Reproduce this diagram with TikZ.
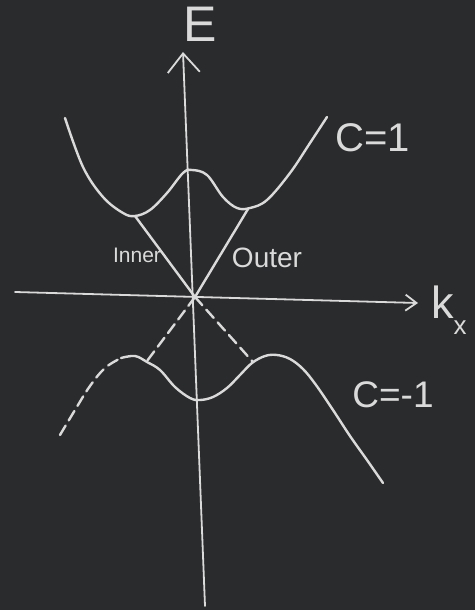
\documentclass[tikz,border=0pt]{standalone}
\usepackage{fontspec}
\setmainfont{Liberation Sans}
\usetikzlibrary{arrows.meta}
\definecolor{board}{RGB}{42,43,45}
\definecolor{chalk}{RGB}{218,218,218}
\begin{document}
\begin{tikzpicture}[x=1pt,y=-1pt,
  chalkline/.style={draw=chalk,line width=2.4pt,line cap=round,line join=round},
  axisline/.style={draw=chalk,line width=1.8pt,line cap=round},
  dashline/.style={chalkline,dash pattern=on 11pt off 6pt},
  lbl/.style={text=chalk,inner sep=0pt}]
\fill[board] (0,0) rectangle (475,610);
\useasboundingbox (0,0) rectangle (475,610);
% key points
\coordinate (O) at (195,297);
\coordinate (Ebot) at (205,606);
\coordinate (Etop) at (183,52);
\coordinate (kleft) at (15,292);
\coordinate (kright) at (418,303);
\coordinate (Lmin) at (135,216);
\coordinate (Rmin) at (248,209);
\coordinate (Lk) at (147,361);
\coordinate (Rk) at (253,362);
% axes
\draw[axisline,-{Straight Barb[length=19pt,width=32pt,line width=1.8pt]}] (Ebot) -- (Etop);
\draw[axisline,-{Straight Barb[length=11pt,width=16pt,line width=1.8pt]}] (kleft) -- (kright);
% upper band C=1
\draw[chalkline] plot[smooth,tension=0.6] coordinates {(65,118) (83,167) (103,197) (123,213) (135,216) (150,210) (167,193) (183,173) (192,170) (207,175) (223,197) (237,208) (250,208) (267,200) (290,173) (310,143) (327,117)};
\draw[chalkline] (Lmin) -- (O);
\draw[chalkline] (Rmin) -- (O);
% lower band C=-1
\draw[dashline] plot[smooth,tension=0.6] coordinates {(60,435) (75,410) (90,386) (105,368) (121,358)};
\draw[chalkline] plot[smooth,tension=0.6] coordinates {(121,358) (135,356) (147,362) (160,370) (175,387) (190,398) (200,400) (213,397) (227,388) (240,375) (252,363) (265,356) (277,355) (290,359) (303,369) (316,385) (333,410) (350,436) (367,460) (383,483)};
\draw[dashline] (O) -- (Lk);
\draw[dashline] (O) -- (Rk);
% labels
\node[lbl,font=\fontsize{50}{50}\selectfont] (Elab) at (200,24) {E};
\node[lbl,font=\fontsize{45}{45}\selectfont,anchor=west] (klab) at (431,310) {k\raisebox{-0.35em}{\fontsize{26}{26}\selectfont x}};
\node[lbl,font=\fontsize{21}{21}\selectfont] (inner) at (137,255) {Inner};
\node[lbl,font=\fontsize{28}{28}\selectfont] (outer) at (267,258) {Outer};
\node[lbl,font=\fontsize{40}{40}\selectfont] (cplus) at (373,138) {C=1};
\node[lbl,font=\fontsize{37}{37}\selectfont] (cminus) at (393,395) {C=-1};
\end{tikzpicture}
\end{document}
